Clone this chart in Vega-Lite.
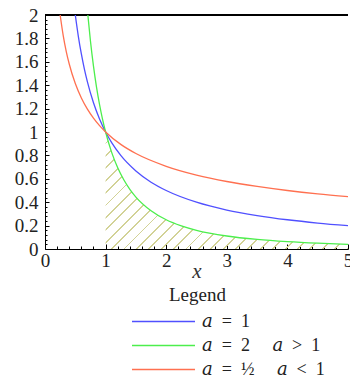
{
  "$schema": "https://vega.github.io/schema/vega-lite/v6.json",
  "width": 303,
  "height": 234,
  "autosize": {"type": "none"},
  "padding": {"left": 45, "top": 15, "right": 2, "bottom": 131},
  "background": "white",
  "config": {
    "view": {"stroke": null},
    "font": "Liberation Serif",
    "axis": {
      "grid": false,
      "domainColor": "black",
      "domainWidth": 1,
      "tickColor": "black",
      "tickWidth": 1,
      "labelColor": "#222222",
      "labelFont": "Liberation Serif",
      "labelFontSize": 19,
      "titleFont": "Liberation Serif",
      "titleColor": "#333333"
    },
    "legend": {
      "labelFont": "Liberation Serif, DejaVu Serif",
      "titleFont": "Liberation Serif"
    }
  },
  "datasets": {
    "curves": [
      {"x": 0.5, "y": 2, "a": 1},
      {"x": 0.55, "y": 1.818, "a": 1},
      {"x": 0.6, "y": 1.667, "a": 1},
      {"x": 0.65, "y": 1.538, "a": 1},
      {"x": 0.7, "y": 1.429, "a": 1},
      {"x": 0.8, "y": 1.25, "a": 1},
      {"x": 0.9, "y": 1.111, "a": 1},
      {"x": 1, "y": 1, "a": 1},
      {"x": 1.1, "y": 0.909, "a": 1},
      {"x": 1.25, "y": 0.8, "a": 1},
      {"x": 1.5, "y": 0.667, "a": 1},
      {"x": 1.75, "y": 0.571, "a": 1},
      {"x": 2, "y": 0.5, "a": 1},
      {"x": 2.5, "y": 0.4, "a": 1},
      {"x": 3, "y": 0.333, "a": 1},
      {"x": 3.5, "y": 0.286, "a": 1},
      {"x": 4, "y": 0.25, "a": 1},
      {"x": 4.5, "y": 0.222, "a": 1},
      {"x": 5, "y": 0.2, "a": 1},
      {"x": 0.7071, "y": 2, "a": 2},
      {"x": 0.75, "y": 1.778, "a": 2},
      {"x": 0.8, "y": 1.5625, "a": 2},
      {"x": 0.85, "y": 1.384, "a": 2},
      {"x": 0.9, "y": 1.235, "a": 2},
      {"x": 0.95, "y": 1.108, "a": 2},
      {"x": 1, "y": 1, "a": 2},
      {"x": 1.1, "y": 0.826, "a": 2},
      {"x": 1.2, "y": 0.694, "a": 2},
      {"x": 1.3, "y": 0.592, "a": 2},
      {"x": 1.4, "y": 0.51, "a": 2},
      {"x": 1.5, "y": 0.444, "a": 2},
      {"x": 1.75, "y": 0.327, "a": 2},
      {"x": 2, "y": 0.25, "a": 2},
      {"x": 2.25, "y": 0.198, "a": 2},
      {"x": 2.5, "y": 0.16, "a": 2},
      {"x": 3, "y": 0.111, "a": 2},
      {"x": 3.5, "y": 0.0816, "a": 2},
      {"x": 4, "y": 0.0625, "a": 2},
      {"x": 4.5, "y": 0.0494, "a": 2},
      {"x": 5, "y": 0.04, "a": 2},
      {"x": 0.25, "y": 2, "a": 0.5},
      {"x": 0.3, "y": 1.826, "a": 0.5},
      {"x": 0.35, "y": 1.69, "a": 0.5},
      {"x": 0.4, "y": 1.581, "a": 0.5},
      {"x": 0.5, "y": 1.414, "a": 0.5},
      {"x": 0.6, "y": 1.291, "a": 0.5},
      {"x": 0.7, "y": 1.195, "a": 0.5},
      {"x": 0.8, "y": 1.118, "a": 0.5},
      {"x": 0.9, "y": 1.054, "a": 0.5},
      {"x": 1, "y": 1, "a": 0.5},
      {"x": 1.25, "y": 0.894, "a": 0.5},
      {"x": 1.5, "y": 0.816, "a": 0.5},
      {"x": 2, "y": 0.707, "a": 0.5},
      {"x": 2.5, "y": 0.632, "a": 0.5},
      {"x": 3, "y": 0.577, "a": 0.5},
      {"x": 3.5, "y": 0.535, "a": 0.5},
      {"x": 4, "y": 0.5, "a": 0.5},
      {"x": 4.5, "y": 0.471, "a": 0.5},
      {"x": 5, "y": 0.447, "a": 0.5}
    ]
  },
  "data": {"name": "curves"},
  "layer": [
    {
      "transform": [{"filter": "datum.a === 2 && datum.x >= 1"}],
      "mark": {
        "type": "area",
        "interpolate": "monotone",
        "fill": {
          "gradient": "linear",
          "x1": 0, "y1": 0, "x2": 1.2025, "y2": 0.5804,
          "stops": [
            {"offset": 0, "color": "rgba(255,255,255,0)"}, {"offset": 0.02931, "color": "rgba(255,255,255,0)"}, {"offset": 0.02931, "color": "#d2d296"}, {"offset": 0.03448, "color": "#d2d296"},
            {"offset": 0.03448, "color": "rgba(255,255,255,0)"}, {"offset": 0.06379, "color": "rgba(255,255,255,0)"}, {"offset": 0.06379, "color": "#d2d296"}, {"offset": 0.06897, "color": "#d2d296"},
            {"offset": 0.06897, "color": "rgba(255,255,255,0)"}, {"offset": 0.09828, "color": "rgba(255,255,255,0)"}, {"offset": 0.09828, "color": "#d2d296"}, {"offset": 0.10345, "color": "#d2d296"},
            {"offset": 0.10345, "color": "rgba(255,255,255,0)"}, {"offset": 0.13276, "color": "rgba(255,255,255,0)"}, {"offset": 0.13276, "color": "#d2d296"}, {"offset": 0.13793, "color": "#d2d296"},
            {"offset": 0.13793, "color": "rgba(255,255,255,0)"}, {"offset": 0.16724, "color": "rgba(255,255,255,0)"}, {"offset": 0.16724, "color": "#d2d296"}, {"offset": 0.17241, "color": "#d2d296"},
            {"offset": 0.17241, "color": "rgba(255,255,255,0)"}, {"offset": 0.20172, "color": "rgba(255,255,255,0)"}, {"offset": 0.20172, "color": "#d2d296"}, {"offset": 0.2069, "color": "#d2d296"},
            {"offset": 0.2069, "color": "rgba(255,255,255,0)"}, {"offset": 0.23621, "color": "rgba(255,255,255,0)"}, {"offset": 0.23621, "color": "#d2d296"}, {"offset": 0.24138, "color": "#d2d296"},
            {"offset": 0.24138, "color": "rgba(255,255,255,0)"}, {"offset": 0.27069, "color": "rgba(255,255,255,0)"}, {"offset": 0.27069, "color": "#d2d296"}, {"offset": 0.27586, "color": "#d2d296"},
            {"offset": 0.27586, "color": "rgba(255,255,255,0)"}, {"offset": 0.30517, "color": "rgba(255,255,255,0)"}, {"offset": 0.30517, "color": "#d2d296"}, {"offset": 0.31034, "color": "#d2d296"},
            {"offset": 0.31034, "color": "rgba(255,255,255,0)"}, {"offset": 0.33966, "color": "rgba(255,255,255,0)"}, {"offset": 0.33966, "color": "#d2d296"}, {"offset": 0.34483, "color": "#d2d296"},
            {"offset": 0.34483, "color": "rgba(255,255,255,0)"}, {"offset": 0.37414, "color": "rgba(255,255,255,0)"}, {"offset": 0.37414, "color": "#d2d296"}, {"offset": 0.37931, "color": "#d2d296"},
            {"offset": 0.37931, "color": "rgba(255,255,255,0)"}, {"offset": 0.40862, "color": "rgba(255,255,255,0)"}, {"offset": 0.40862, "color": "#d2d296"}, {"offset": 0.41379, "color": "#d2d296"},
            {"offset": 0.41379, "color": "rgba(255,255,255,0)"}, {"offset": 0.4431, "color": "rgba(255,255,255,0)"}, {"offset": 0.4431, "color": "#d2d296"}, {"offset": 0.44828, "color": "#d2d296"},
            {"offset": 0.44828, "color": "rgba(255,255,255,0)"}, {"offset": 0.47759, "color": "rgba(255,255,255,0)"}, {"offset": 0.47759, "color": "#d2d296"}, {"offset": 0.48276, "color": "#d2d296"},
            {"offset": 0.48276, "color": "rgba(255,255,255,0)"}, {"offset": 0.51207, "color": "rgba(255,255,255,0)"}, {"offset": 0.51207, "color": "#d2d296"}, {"offset": 0.51724, "color": "#d2d296"},
            {"offset": 0.51724, "color": "rgba(255,255,255,0)"}, {"offset": 0.54655, "color": "rgba(255,255,255,0)"}, {"offset": 0.54655, "color": "#d2d296"}, {"offset": 0.55172, "color": "#d2d296"},
            {"offset": 0.55172, "color": "rgba(255,255,255,0)"}, {"offset": 0.58103, "color": "rgba(255,255,255,0)"}, {"offset": 0.58103, "color": "#d2d296"}, {"offset": 0.58621, "color": "#d2d296"},
            {"offset": 0.58621, "color": "rgba(255,255,255,0)"}, {"offset": 0.61552, "color": "rgba(255,255,255,0)"}, {"offset": 0.61552, "color": "#d2d296"}, {"offset": 0.62069, "color": "#d2d296"},
            {"offset": 0.62069, "color": "rgba(255,255,255,0)"}, {"offset": 0.65, "color": "rgba(255,255,255,0)"}, {"offset": 0.65, "color": "#d2d296"}, {"offset": 0.65517, "color": "#d2d296"},
            {"offset": 0.65517, "color": "rgba(255,255,255,0)"}, {"offset": 0.68448, "color": "rgba(255,255,255,0)"}, {"offset": 0.68448, "color": "#d2d296"}, {"offset": 0.68966, "color": "#d2d296"},
            {"offset": 0.68966, "color": "rgba(255,255,255,0)"}, {"offset": 0.71897, "color": "rgba(255,255,255,0)"}, {"offset": 0.71897, "color": "#d2d296"}, {"offset": 0.72414, "color": "#d2d296"},
            {"offset": 0.72414, "color": "rgba(255,255,255,0)"}, {"offset": 0.75345, "color": "rgba(255,255,255,0)"}, {"offset": 0.75345, "color": "#d2d296"}, {"offset": 0.75862, "color": "#d2d296"},
            {"offset": 0.75862, "color": "rgba(255,255,255,0)"}, {"offset": 0.78793, "color": "rgba(255,255,255,0)"}, {"offset": 0.78793, "color": "#d2d296"}, {"offset": 0.7931, "color": "#d2d296"},
            {"offset": 0.7931, "color": "rgba(255,255,255,0)"}, {"offset": 0.82241, "color": "rgba(255,255,255,0)"}, {"offset": 0.82241, "color": "#d2d296"}, {"offset": 0.82759, "color": "#d2d296"},
            {"offset": 0.82759, "color": "rgba(255,255,255,0)"}, {"offset": 0.8569, "color": "rgba(255,255,255,0)"}, {"offset": 0.8569, "color": "#d2d296"}, {"offset": 0.86207, "color": "#d2d296"},
            {"offset": 0.86207, "color": "rgba(255,255,255,0)"}, {"offset": 0.89138, "color": "rgba(255,255,255,0)"}, {"offset": 0.89138, "color": "#d2d296"}, {"offset": 0.89655, "color": "#d2d296"},
            {"offset": 0.89655, "color": "rgba(255,255,255,0)"}, {"offset": 0.92586, "color": "rgba(255,255,255,0)"}, {"offset": 0.92586, "color": "#d2d296"}, {"offset": 0.93103, "color": "#d2d296"},
            {"offset": 0.93103, "color": "rgba(255,255,255,0)"}, {"offset": 0.96034, "color": "rgba(255,255,255,0)"}, {"offset": 0.96034, "color": "#d2d296"}, {"offset": 0.96552, "color": "#d2d296"},
            {"offset": 0.96552, "color": "rgba(255,255,255,0)"}, {"offset": 0.99483, "color": "rgba(255,255,255,0)"}, {"offset": 0.99483, "color": "#d2d296"}, {"offset": 1, "color": "#d2d296"}
          ]
        }
      },
      "encoding": {
        "x": {
          "field": "x", "type": "quantitative",
          "scale": {"domain": [0, 5], "nice": false, "zero": false},
          "axis": {
            "title": "x",
            "titleFont": "Liberation Serif",
            "titleFontStyle": "italic",
            "titleFontWeight": "normal",
            "titleFontSize": 21,
            "titlePadding": -12,
            "values": [0, 0.2, 0.4, 0.6, 0.8, 1, 1.2, 1.4, 1.6, 1.8, 2, 2.2, 2.4, 2.6, 2.8, 3, 3.2, 3.4, 3.6, 3.8, 4, 4.2, 4.4, 4.6, 4.8, 5],
            "tickCount": 200,
            "labelFont": "Liberation Serif",
            "labelExpr": "abs(datum.value - round(datum.value)) < 0.001 ? format(datum.value, 'd') : ''",
            "tickSize": {"condition": {"test": "abs(datum.value - round(datum.value)) < 0.001", "value": -5}, "value": -3},
            "labelPadding": 7,
            "labelOverlap": false,
            "labelFlush": false,
            "labelBound": false
          }
        },
        "y": {
          "field": "y", "type": "quantitative",
          "scale": {"domain": [0, 2], "nice": false, "zero": false},
          "axis": {
            "title": null,
            "values": [0, 0.04, 0.08, 0.12, 0.16, 0.2, 0.24, 0.28, 0.32, 0.36, 0.4, 0.44, 0.48, 0.52, 0.56, 0.6, 0.64, 0.68, 0.72, 0.76, 0.8, 0.84, 0.88, 0.92, 0.96, 1, 1.04, 1.08, 1.12, 1.16, 1.2, 1.24, 1.28, 1.32, 1.36, 1.4, 1.44, 1.48, 1.52, 1.56, 1.6, 1.64, 1.68, 1.72, 1.76, 1.8, 1.84, 1.88, 1.92, 1.96, 2],
            "tickCount": 200,
            "labelFont": "Liberation Serif",
            "labelExpr": "abs(datum.value * 5 - round(datum.value * 5)) < 0.001 ? format(datum.value, '~g') : ''",
            "tickSize": {"condition": {"test": "abs(datum.value * 5 - round(datum.value * 5)) < 0.001", "value": -4}, "value": -2},
            "labelPadding": 11,
            "labelOverlap": false,
            "labelFlush": false,
            "labelBound": false
          }
        }
      }
    },
    {
      "mark": {"type": "rule", "color": "black", "strokeWidth": 1.2},
      "encoding": {"y": {"datum": 2}}
    },
    {
      "mark": {"type": "line", "strokeWidth": 1.3, "interpolate": "monotone", "clip": true},
      "encoding": {
        "x": {"field": "x", "type": "quantitative"},
        "y": {"field": "y", "type": "quantitative"},
        "detail": {"field": "a", "type": "nominal"},
        "color": {
          "field": "a", "type": "nominal",
          "scale": {"domain": [1, 2, 0.5], "range": ["#5050ff", "#4cee4c", "#ff7050"]},
          "legend": {
            "title": "\u200b\u2003\u2003Legend",
            "orient": "none",
            "legendX": 86,
            "legendY": 271,
            "direction": "vertical",
            "padding": 0,
            "titleAnchor": "start",
            "titleFontSize": 19,
            "titleFontWeight": "normal",
            "titleColor": "#222222",
            "titlePadding": 5,
            "labelFontSize": 18,
            "labelColor": "#222222",
            "labelOffset": 48,
            "rowPadding": 3,
            "symbolType": "M-1,0H5",
            "symbolSize": 441,
            "symbolStrokeWidth": 1.5,
            "labelLimit": 300,
            "labelExpr": "datum.value == 1 ? '𝑎\u2002=\u20021' : datum.value == 2 ? '𝑎\u2002=\u20022\u2002\u2002 𝑎\u2002>\u20021' : '𝑎\u2002=\u2002½\u2002\u2002 𝑎\u2002<\u20021'"
          }
        }
      }
    }
  ]
}
